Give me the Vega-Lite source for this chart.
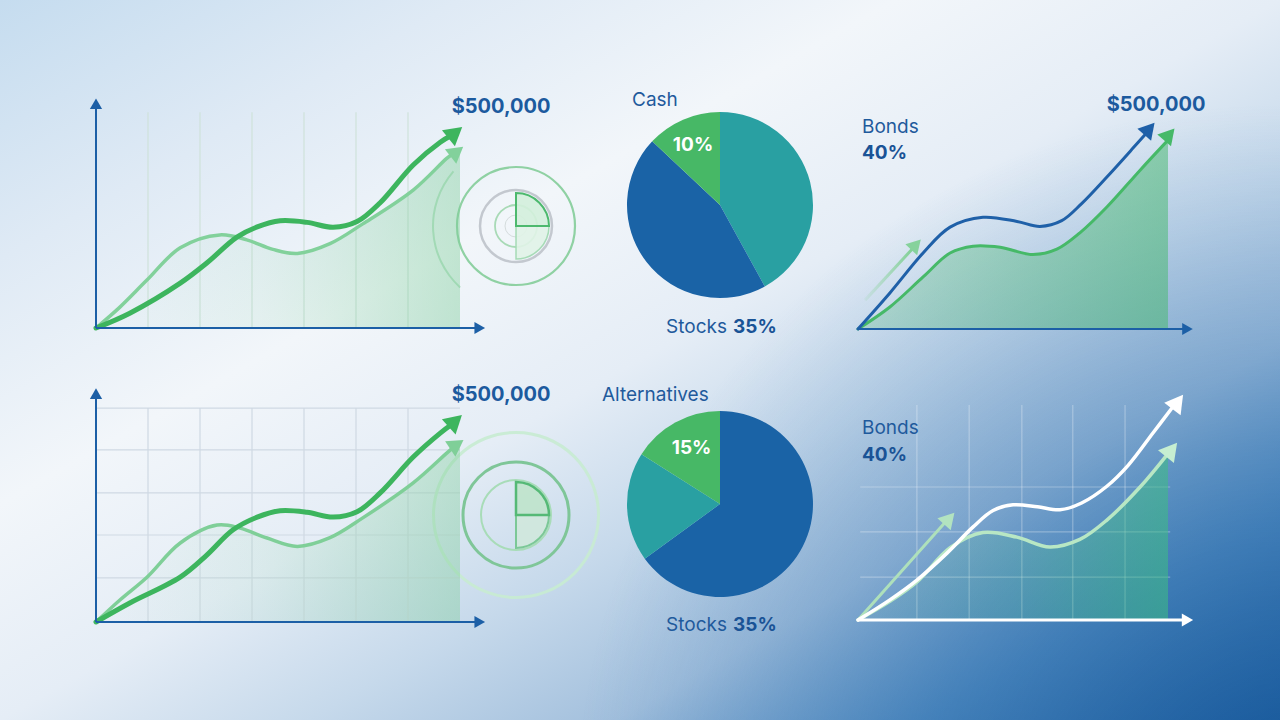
{
  "$schema": "https://vega.github.io/schema/vega-lite/v6.json",
  "width": 1280,
  "height": 720,
  "autosize": {"type": "fit", "contains": "padding"},
  "padding": 0,
  "background": "#ffffff",
  "config": {"view": {"stroke": null}, "font": "Inter"},
  "datasets": {
    "tlGrid": [
      {"t": 1, "t2": 1, "v": 0, "v2": 568}, {"t": 2, "t2": 2, "v": 0, "v2": 568},
      {"t": 3, "t2": 3, "v": 0, "v2": 568}, {"t": 4, "t2": 4, "v": 0, "v2": 568},
      {"t": 5, "t2": 5, "v": 0, "v2": 568}, {"t": 6, "t2": 6, "v": 0, "v2": 568}
    ],
    "tlDark": [
      {"t": 0, "v": 0}, {"t": 0.65, "v": 39}, {"t": 1.62, "v": 118}, {"t": 2.13, "v": 171},
      {"t": 2.71, "v": 239}, {"t": 3.1, "v": 266}, {"t": 3.54, "v": 282}, {"t": 4.06, "v": 278},
      {"t": 4.56, "v": 265}, {"t": 5.02, "v": 280}, {"t": 5.46, "v": 329}, {"t": 6.1, "v": 429},
      {"t": 6.62, "v": 489}, {"t": 6.85, "v": 508}
    ],
    "tlLight": [
      {"t": 0, "v": 0}, {"t": 0.46, "v": 55}, {"t": 0.98, "v": 126}, {"t": 1.62, "v": 211},
      {"t": 2.38, "v": 245}, {"t": 2.9, "v": 232}, {"t": 3.4, "v": 207}, {"t": 3.87, "v": 196},
      {"t": 4.5, "v": 222}, {"t": 5.13, "v": 274}, {"t": 6.1, "v": 363}, {"t": 6.75, "v": 447},
      {"t": 6.88, "v": 460}
    ],
    "tlArea": [
      {"t": 0, "v": 0}, {"t": 0.46, "v": 55}, {"t": 0.98, "v": 126}, {"t": 1.62, "v": 211},
      {"t": 2.38, "v": 245}, {"t": 2.9, "v": 232}, {"t": 3.4, "v": 207}, {"t": 3.87, "v": 196},
      {"t": 4.5, "v": 222}, {"t": 5.13, "v": 274}, {"t": 6.1, "v": 363}, {"t": 6.75, "v": 447},
      {"t": 7, "v": 463}
    ],
    "tlAxes": [{"t": 0, "t2": 7.3, "v": 0, "v2": 0}, {"t": 0, "t2": 0, "v": 0, "v2": 585}],
    "blGrid": [
      {"t": 1, "t2": 1, "v": 0, "v2": 563}, {"t": 2, "t2": 2, "v": 0, "v2": 563},
      {"t": 3, "t2": 3, "v": 0, "v2": 563}, {"t": 4, "t2": 4, "v": 0, "v2": 563},
      {"t": 5, "t2": 5, "v": 0, "v2": 563}, {"t": 6, "t2": 6, "v": 0, "v2": 563},
      {"t": 0, "t2": 7, "v": 563, "v2": 563}, {"t": 0, "t2": 7, "v": 453, "v2": 453},
      {"t": 0, "t2": 7, "v": 340, "v2": 340}, {"t": 0, "t2": 7, "v": 229, "v2": 229},
      {"t": 0, "t2": 7, "v": 116, "v2": 116}
    ],
    "blDark": [
      {"t": 0, "v": 0}, {"t": 0.65, "v": 50}, {"t": 1.62, "v": 118}, {"t": 2.13, "v": 176},
      {"t": 2.63, "v": 242}, {"t": 3.1, "v": 276}, {"t": 3.54, "v": 293}, {"t": 4.06, "v": 289},
      {"t": 4.56, "v": 276}, {"t": 5.02, "v": 290}, {"t": 5.46, "v": 339}, {"t": 6.1, "v": 434},
      {"t": 6.62, "v": 497}, {"t": 6.85, "v": 521}
    ],
    "blLight": [
      {"t": 0, "v": 0}, {"t": 0.46, "v": 58}, {"t": 0.98, "v": 118}, {"t": 1.62, "v": 208},
      {"t": 2.33, "v": 255}, {"t": 2.77, "v": 247}, {"t": 3.29, "v": 221}, {"t": 3.87, "v": 199},
      {"t": 4.5, "v": 222}, {"t": 5.13, "v": 274}, {"t": 6.1, "v": 366}, {"t": 6.75, "v": 445},
      {"t": 6.88, "v": 460}
    ],
    "blArea": [
      {"t": 0, "v": 0}, {"t": 0.46, "v": 58}, {"t": 0.98, "v": 118}, {"t": 1.62, "v": 208},
      {"t": 2.33, "v": 255}, {"t": 2.77, "v": 247}, {"t": 3.29, "v": 221}, {"t": 3.87, "v": 199},
      {"t": 4.5, "v": 222}, {"t": 5.13, "v": 274}, {"t": 6.1, "v": 366}, {"t": 6.75, "v": 445},
      {"t": 7, "v": 462}
    ],
    "blAxes": [{"t": 0, "t2": 7.3, "v": 0, "v2": 0}, {"t": 0, "t2": 0, "v": 0, "v2": 596}],
    "trBlue": [
      {"t": 0, "v": 0}, {"t": 0.72, "v": 95}, {"t": 1.47, "v": 200}, {"t": 2.08, "v": 268},
      {"t": 2.82, "v": 294}, {"t": 3.59, "v": 283}, {"t": 4.11, "v": 270}, {"t": 4.6, "v": 285},
      {"t": 5.05, "v": 330}, {"t": 5.62, "v": 400}, {"t": 6.21, "v": 476}, {"t": 6.53, "v": 518}
    ],
    "trGreen": [
      {"t": 0, "v": 0}, {"t": 0.72, "v": 58}, {"t": 1.47, "v": 137}, {"t": 2.08, "v": 200},
      {"t": 2.6, "v": 218}, {"t": 3.21, "v": 215}, {"t": 3.95, "v": 196}, {"t": 4.49, "v": 210},
      {"t": 5.01, "v": 253}, {"t": 5.62, "v": 321}, {"t": 6.37, "v": 418}, {"t": 7, "v": 497}
    ],
    "trSmall": [{"t": 0.16, "v": 76}, {"t": 1.22, "v": 210}],
    "brGrid": [
      {"t": 1.33, "t2": 1.33, "v": 0, "v2": 566}, {"t": 2.51, "t2": 2.51, "v": 0, "v2": 566},
      {"t": 3.7, "t2": 3.7, "v": 0, "v2": 566}, {"t": 4.85, "t2": 4.85, "v": 0, "v2": 566},
      {"t": 6.03, "t2": 6.03, "v": 0, "v2": 566},
      {"t": 0.05, "t2": 7.05, "v": 113, "v2": 113}, {"t": 0.05, "t2": 7.05, "v": 232, "v2": 232},
      {"t": 0.05, "t2": 7.05, "v": 350, "v2": 350}
    ],
    "brWhite": [
      {"t": 0, "v": 0}, {"t": 0.72, "v": 53}, {"t": 1.33, "v": 105}, {"t": 2.01, "v": 176},
      {"t": 2.6, "v": 245}, {"t": 3.05, "v": 288}, {"t": 3.5, "v": 303}, {"t": 4.05, "v": 298},
      {"t": 4.56, "v": 290}, {"t": 5.05, "v": 308}, {"t": 5.62, "v": 352}, {"t": 6.1, "v": 407},
      {"t": 6.66, "v": 492}, {"t": 7.09, "v": 558}
    ],
    "brGreen": [
      {"t": 0, "v": 0}, {"t": 0.72, "v": 49}, {"t": 1.33, "v": 100}, {"t": 2.08, "v": 190},
      {"t": 2.82, "v": 230}, {"t": 3.59, "v": 218}, {"t": 4.33, "v": 192}, {"t": 5.01, "v": 212},
      {"t": 5.62, "v": 263}, {"t": 6.37, "v": 350}, {"t": 7, "v": 438}
    ],
    "brSmall": [{"t": 0, "v": 0}, {"t": 2.0, "v": 261}],
    "xAxisR": [{"t": 0, "t2": 7.4, "v": 0, "v2": 0}]
  },
  "layer": [
    {
      "data": {"values": [{}]},
      "mark": {
        "type": "rect",
        "strokeWidth": 0,
        "fill": {
          "gradient": "linear", "x1": 0, "y1": 0, "x2": 1, "y2": 1,
          "stops": [
            {"offset": 0, "color": "#c5dcef"},
            {"offset": 0.18, "color": "#dfeaf5"},
            {"offset": 0.35, "color": "#f2f6fa"},
            {"offset": 0.5, "color": "#e5edf6"},
            {"offset": 0.62, "color": "#c6d9eb"},
            {"offset": 0.74, "color": "#a3c0dd"},
            {"offset": 0.86, "color": "#5890c4"},
            {"offset": 1, "color": "#195a9c"}
          ]
        }
      },
      "encoding": {}
    },
    {
      "data": {"values": [{}]},
      "mark": {
        "type": "rect",
        "strokeWidth": 0,
        "fill": {
          "gradient": "radial", "x1": 1, "y1": 0.85, "r1": 0, "x2": 1, "y2": 0.85, "r2": 0.55,
          "stops": [
            {"offset": 0, "color": "rgba(26,90,156,0.7)"},
            {"offset": 0.5, "color": "rgba(40,108,172,0.42)"},
            {"offset": 1, "color": "rgba(60,120,180,0)"}
          ]
        }
      },
      "encoding": {}
    },
    {
      "layer": [
        {
          "data": {"name": "tlGrid"},
          "mark": {"type": "rule", "color": "#cfe2db", "strokeWidth": 1.2},
          "encoding": {
            "x": {"field": "t", "type": "quantitative", "scale": {"domain": [0, 7], "range": [96, 460], "nice": false, "zero": false}, "axis": null},
            "x2": {"field": "t2"},
            "y": {"field": "v", "type": "quantitative", "scale": {"domain": [0, 600], "range": [328, 100], "nice": false, "zero": false}, "axis": null},
            "y2": {"field": "v2"}
          }
        },
        {
          "data": {"values": [{"t": 8.077, "v": 268.4}]},
          "layer": [
            {"mark": {"type": "arc", "theta": 3.88, "theta2": 5.43, "outerRadius": 84, "innerRadius": 82, "fill": "#9fd8b1", "opacity": 0.7}},
            {"mark": {"type": "point", "shape": "circle", "filled": false, "size": 13924, "stroke": "#8fd1a3", "strokeWidth": 2.2, "opacity": 1}},
            {"mark": {"type": "point", "shape": "circle", "filled": false, "size": 5184, "stroke": "#c3c8cf", "strokeWidth": 2.5, "opacity": 1}},
            {"mark": {"type": "point", "shape": "circle", "filled": false, "size": 1764, "stroke": "#a8dab6", "strokeWidth": 1.8, "opacity": 1}},
            {"mark": {"type": "point", "shape": "circle", "filled": false, "size": 484, "stroke": "#d5dcdd", "strokeWidth": 1, "opacity": 1}},
            {"mark": {"type": "arc", "theta": 1.5708, "theta2": 3.1416, "outerRadius": 33, "innerRadius": 0, "fill": "#e0f3e7", "fillOpacity": 0.9, "stroke": "#a6dbb6", "strokeWidth": 1.5}},
            {"mark": {"type": "arc", "theta": 0, "theta2": 1.5708, "outerRadius": 33, "innerRadius": 0, "fill": "#d3efdc", "fillOpacity": 0.9, "stroke": "#4db96e", "strokeWidth": 2}}
          ],
          "encoding": {
            "x": {"field": "t", "type": "quantitative", "scale": {"domain": [0, 7], "range": [96, 460], "nice": false, "zero": false}, "axis": null},
            "y": {"field": "v", "type": "quantitative", "scale": {"domain": [0, 600], "range": [328, 100], "nice": false, "zero": false}, "axis": null}
          }
        },
        {
          "data": {"name": "tlArea"},
          "mark": {
            "type": "area", "interpolate": "catmull-rom",
            "fill": {"gradient": "linear", "x1": 0, "y1": 0, "x2": 1, "y2": 0,
              "stops": [
                {"offset": 0, "color": "rgba(140,210,165,0)"},
                {"offset": 0.45, "color": "rgba(140,210,165,0.12)"},
                {"offset": 1, "color": "rgba(125,205,152,0.42)"}
              ]}
          },
          "encoding": {
            "x": {"field": "t", "type": "quantitative", "scale": {"domain": [0, 7], "range": [96, 460], "nice": false, "zero": false}, "axis": null},
            "y": {"field": "v", "type": "quantitative", "scale": {"domain": [0, 600], "range": [328, 100], "nice": false, "zero": false}, "axis": null}
          }
        },
        {
          "data": {"name": "tlLight"},
          "mark": {"type": "line", "interpolate": "catmull-rom", "color": "#82d19b", "strokeWidth": 3.5, "strokeCap": "round"},
          "encoding": {
            "x": {"field": "t", "type": "quantitative", "scale": {"domain": [0, 7], "range": [96, 460], "nice": false, "zero": false}, "axis": null},
            "y": {"field": "v", "type": "quantitative", "scale": {"domain": [0, 600], "range": [328, 100], "nice": false, "zero": false}, "axis": null}
          }
        },
        {
          "data": {"name": "tlDark"},
          "mark": {"type": "line", "interpolate": "catmull-rom", "color": "#3db55e", "strokeWidth": 5, "strokeCap": "round"},
          "encoding": {
            "x": {"field": "t", "type": "quantitative", "scale": {"domain": [0, 7], "range": [96, 460], "nice": false, "zero": false}, "axis": null},
            "y": {"field": "v", "type": "quantitative", "scale": {"domain": [0, 600], "range": [328, 100], "nice": false, "zero": false}, "axis": null}
          }
        },
        {
          "data": {"name": "tlAxes"},
          "mark": {"type": "rule", "color": "#1c5fa6", "strokeWidth": 2},
          "encoding": {
            "x": {"field": "t", "type": "quantitative", "scale": {"domain": [0, 7], "range": [96, 460], "nice": false, "zero": false}, "axis": null},
            "x2": {"field": "t2"},
            "y": {"field": "v", "type": "quantitative", "scale": {"domain": [0, 600], "range": [328, 100], "nice": false, "zero": false}, "axis": null},
            "y2": {"field": "v2"}
          }
        },
        {
          "layer": [
            {"data": {"values": [{"t": 7.38, "v": 0}]}, "mark": {"type": "point", "shape": "triangle-right", "filled": true, "size": 150, "color": "#1c5fa6", "opacity": 1}},
            {"data": {"values": [{"t": 0, "v": 590}]}, "mark": {"type": "point", "shape": "triangle-up", "filled": true, "size": 150, "color": "#1c5fa6", "opacity": 1}},
            {"data": {"values": [{"t": 6.91, "v": 514}]}, "mark": {"type": "point", "shape": "triangle-up", "filled": true, "size": 420, "angle": 51, "color": "#3db55e", "opacity": 1}},
            {"data": {"values": [{"t": 6.94, "v": 464}]}, "mark": {"type": "point", "shape": "triangle-up", "filled": true, "size": 340, "angle": 52, "color": "#82d19b", "opacity": 1}},
            {"data": {"values": [{"label": "$500,000", "t": 7.79, "v": 582}]}, "mark": {"type": "text", "fontSize": 20, "fontWeight": "bold", "color": "#1c5a9e", "align": "center", "baseline": "middle"}, "encoding": {"text": {"field": "label"}}}
          ],
          "encoding": {
            "x": {"field": "t", "type": "quantitative", "scale": {"domain": [0, 7], "range": [96, 460], "nice": false, "zero": false}, "axis": null},
            "y": {"field": "v", "type": "quantitative", "scale": {"domain": [0, 600], "range": [328, 100], "nice": false, "zero": false}, "axis": null}
          }
        }
      ]
    },
    {
      "layer": [
        {
          "data": {"name": "blGrid"},
          "mark": {"type": "rule", "color": "#cfd9e3", "strokeWidth": 1.2},
          "encoding": {
            "x": {"field": "t", "type": "quantitative", "scale": {"domain": [0, 7], "range": [96, 460], "nice": false, "zero": false}, "axis": null},
            "x2": {"field": "t2"},
            "y": {"field": "v", "type": "quantitative", "scale": {"domain": [0, 600], "range": [622, 394], "nice": false, "zero": false}, "axis": null},
            "y2": {"field": "v2"}
          }
        },
        {
          "data": {"values": [{"t": 8.077, "v": 281.6}]},
          "layer": [
            {"mark": {"type": "point", "shape": "circle", "filled": false, "size": 27225, "stroke": "#c8ecd2", "strokeWidth": 3, "opacity": 0.9}},
            {"mark": {"type": "point", "shape": "circle", "filled": false, "size": 11236, "stroke": "#7fc698", "strokeWidth": 3, "opacity": 1}},
            {"mark": {"type": "point", "shape": "circle", "filled": false, "size": 4900, "stroke": "#a8dcb8", "strokeWidth": 2, "opacity": 1}},
            {"mark": {"type": "arc", "theta": 1.5708, "theta2": 3.1416, "outerRadius": 33, "innerRadius": 0, "fill": "#cfe9da", "fillOpacity": 0.8, "stroke": "#7cc897", "strokeWidth": 2}},
            {"mark": {"type": "arc", "theta": 0, "theta2": 1.5708, "outerRadius": 33, "innerRadius": 0, "fill": "#bfe3cb", "fillOpacity": 0.9, "stroke": "#55b976", "strokeWidth": 2.5}}
          ],
          "encoding": {
            "x": {"field": "t", "type": "quantitative", "scale": {"domain": [0, 7], "range": [96, 460], "nice": false, "zero": false}, "axis": null},
            "y": {"field": "v", "type": "quantitative", "scale": {"domain": [0, 600], "range": [622, 394], "nice": false, "zero": false}, "axis": null}
          }
        },
        {
          "data": {"name": "blArea"},
          "mark": {
            "type": "area", "interpolate": "catmull-rom",
            "fill": {"gradient": "linear", "x1": 0, "y1": 0, "x2": 1, "y2": 0,
              "stops": [
                {"offset": 0, "color": "rgba(140,210,165,0)"},
                {"offset": 0.45, "color": "rgba(140,210,165,0.13)"},
                {"offset": 1, "color": "rgba(125,205,152,0.4)"}
              ]}
          },
          "encoding": {
            "x": {"field": "t", "type": "quantitative", "scale": {"domain": [0, 7], "range": [96, 460], "nice": false, "zero": false}, "axis": null},
            "y": {"field": "v", "type": "quantitative", "scale": {"domain": [0, 600], "range": [622, 394], "nice": false, "zero": false}, "axis": null}
          }
        },
        {
          "data": {"name": "blLight"},
          "mark": {"type": "line", "interpolate": "catmull-rom", "color": "#7fcf98", "strokeWidth": 3.5, "strokeCap": "round"},
          "encoding": {
            "x": {"field": "t", "type": "quantitative", "scale": {"domain": [0, 7], "range": [96, 460], "nice": false, "zero": false}, "axis": null},
            "y": {"field": "v", "type": "quantitative", "scale": {"domain": [0, 600], "range": [622, 394], "nice": false, "zero": false}, "axis": null}
          }
        },
        {
          "data": {"name": "blDark"},
          "mark": {"type": "line", "interpolate": "catmull-rom", "color": "#3db55e", "strokeWidth": 5, "strokeCap": "round"},
          "encoding": {
            "x": {"field": "t", "type": "quantitative", "scale": {"domain": [0, 7], "range": [96, 460], "nice": false, "zero": false}, "axis": null},
            "y": {"field": "v", "type": "quantitative", "scale": {"domain": [0, 600], "range": [622, 394], "nice": false, "zero": false}, "axis": null}
          }
        },
        {
          "data": {"name": "blAxes"},
          "mark": {"type": "rule", "color": "#1c5fa6", "strokeWidth": 2},
          "encoding": {
            "x": {"field": "t", "type": "quantitative", "scale": {"domain": [0, 7], "range": [96, 460], "nice": false, "zero": false}, "axis": null},
            "x2": {"field": "t2"},
            "y": {"field": "v", "type": "quantitative", "scale": {"domain": [0, 600], "range": [622, 394], "nice": false, "zero": false}, "axis": null},
            "y2": {"field": "v2"}
          }
        },
        {
          "layer": [
            {"data": {"values": [{"t": 7.38, "v": 0}]}, "mark": {"type": "point", "shape": "triangle-right", "filled": true, "size": 150, "color": "#1c5fa6", "opacity": 1}},
            {"data": {"values": [{"t": 0, "v": 601}]}, "mark": {"type": "point", "shape": "triangle-up", "filled": true, "size": 150, "color": "#1c5fa6", "opacity": 1}},
            {"data": {"values": [{"t": 6.91, "v": 529}]}, "mark": {"type": "point", "shape": "triangle-up", "filled": true, "size": 420, "angle": 48, "color": "#3db55e", "opacity": 1}},
            {"data": {"values": [{"t": 6.94, "v": 467}]}, "mark": {"type": "point", "shape": "triangle-up", "filled": true, "size": 340, "angle": 56, "color": "#7fcf98", "opacity": 1}},
            {"data": {"values": [{"label": "$500,000", "t": 7.79, "v": 597}]}, "mark": {"type": "text", "fontSize": 20, "fontWeight": "bold", "color": "#1c5a9e", "align": "center", "baseline": "middle"}, "encoding": {"text": {"field": "label"}}}
          ],
          "encoding": {
            "x": {"field": "t", "type": "quantitative", "scale": {"domain": [0, 7], "range": [96, 460], "nice": false, "zero": false}, "axis": null},
            "y": {"field": "v", "type": "quantitative", "scale": {"domain": [0, 600], "range": [622, 394], "nice": false, "zero": false}, "axis": null}
          }
        }
      ]
    },
    {
      "layer": [
        {
          "data": {"name": "trGreen"},
          "mark": {
            "type": "area", "interpolate": "catmull-rom",
            "fill": {"gradient": "linear", "x1": 0, "y1": 0, "x2": 1, "y2": 0,
              "stops": [
                {"offset": 0, "color": "rgba(80,185,120,0.25)"},
                {"offset": 1, "color": "rgba(75,185,115,0.55)"}
              ]}
          },
          "encoding": {
            "x": {"field": "t", "type": "quantitative", "scale": {"domain": [0, 7], "range": [858, 1168], "nice": false, "zero": false}, "axis": null},
            "y": {"field": "v", "type": "quantitative", "scale": {"domain": [0, 600], "range": [329, 101], "nice": false, "zero": false}, "axis": null}
          }
        },
        {
          "data": {"name": "trSmall"},
          "mark": {"type": "line", "strokeWidth": 3, "strokeCap": "butt",
            "stroke": {"gradient": "linear", "x1": 0, "y1": 0, "x2": 1, "y2": 0,
              "stops": [{"offset": 0, "color": "rgba(143,212,160,0.15)"}, {"offset": 1, "color": "rgba(130,208,150,1)"}]}},
          "encoding": {
            "x": {"field": "t", "type": "quantitative", "scale": {"domain": [0, 7], "range": [858, 1168], "nice": false, "zero": false}, "axis": null},
            "y": {"field": "v", "type": "quantitative", "scale": {"domain": [0, 600], "range": [329, 101], "nice": false, "zero": false}, "axis": null}
          }
        },
        {
          "data": {"name": "trGreen"},
          "mark": {"type": "line", "interpolate": "catmull-rom", "color": "#46b968", "strokeWidth": 3, "strokeCap": "round"},
          "encoding": {
            "x": {"field": "t", "type": "quantitative", "scale": {"domain": [0, 7], "range": [858, 1168], "nice": false, "zero": false}, "axis": null},
            "y": {"field": "v", "type": "quantitative", "scale": {"domain": [0, 600], "range": [329, 101], "nice": false, "zero": false}, "axis": null}
          }
        },
        {
          "data": {"name": "trBlue"},
          "mark": {"type": "line", "interpolate": "catmull-rom", "color": "#1f60a8", "strokeWidth": 3, "strokeCap": "round"},
          "encoding": {
            "x": {"field": "t", "type": "quantitative", "scale": {"domain": [0, 7], "range": [858, 1168], "nice": false, "zero": false}, "axis": null},
            "y": {"field": "v", "type": "quantitative", "scale": {"domain": [0, 600], "range": [329, 101], "nice": false, "zero": false}, "axis": null}
          }
        },
        {
          "data": {"name": "xAxisR"},
          "mark": {"type": "rule", "color": "#1c5fa6", "strokeWidth": 2},
          "encoding": {
            "x": {"field": "t", "type": "quantitative", "scale": {"domain": [0, 7], "range": [858, 1168], "nice": false, "zero": false}, "axis": null},
            "x2": {"field": "t2"},
            "y": {"field": "v", "type": "quantitative", "scale": {"domain": [0, 600], "range": [329, 101], "nice": false, "zero": false}, "axis": null}
          }
        },
        {
          "layer": [
            {"data": {"values": [{"t": 7.44, "v": 0}]}, "mark": {"type": "point", "shape": "triangle-right", "filled": true, "size": 150, "color": "#1c5fa6", "opacity": 1}},
            {"data": {"values": [{"t": 6.58, "v": 527}]}, "mark": {"type": "point", "shape": "triangle-up", "filled": true, "size": 330, "angle": 41, "color": "#1f60a8", "opacity": 1}},
            {"data": {"values": [{"t": 7.03, "v": 512}]}, "mark": {"type": "point", "shape": "triangle-up", "filled": true, "size": 330, "angle": 41, "color": "#46b968", "opacity": 1}},
            {"data": {"values": [{"t": 1.31, "v": 222}]}, "mark": {"type": "point", "shape": "triangle-up", "filled": true, "size": 260, "angle": 43, "color": "#86d29c", "opacity": 1}},
            {"data": {"values": [{"label": "$500,000", "t": 6.73, "v": 589}]}, "mark": {"type": "text", "fontSize": 20, "fontWeight": "bold", "color": "#1c5a9e", "align": "center", "baseline": "middle"}, "encoding": {"text": {"field": "label"}}},
            {"data": {"values": [{"label": "Bonds", "t": 0.09, "v": 532}]}, "mark": {"type": "text", "fontSize": 19, "fontWeight": "normal", "color": "#1f5a9c", "align": "left", "baseline": "middle"}, "encoding": {"text": {"field": "label"}}},
            {"data": {"values": [{"label": "40%", "t": 0.09, "v": 463}]}, "mark": {"type": "text", "fontSize": 19, "fontWeight": "bold", "color": "#1a5396", "align": "left", "baseline": "middle"}, "encoding": {"text": {"field": "label"}}}
          ],
          "encoding": {
            "x": {"field": "t", "type": "quantitative", "scale": {"domain": [0, 7], "range": [858, 1168], "nice": false, "zero": false}, "axis": null},
            "y": {"field": "v", "type": "quantitative", "scale": {"domain": [0, 600], "range": [329, 101], "nice": false, "zero": false}, "axis": null}
          }
        }
      ]
    },
    {
      "layer": [
        {
          "data": {"name": "brGrid"},
          "mark": {"type": "rule", "color": "#ffffff", "strokeWidth": 1.2, "opacity": 0.3},
          "encoding": {
            "x": {"field": "t", "type": "quantitative", "scale": {"domain": [0, 7], "range": [858, 1168], "nice": false, "zero": false}, "axis": null},
            "x2": {"field": "t2"},
            "y": {"field": "v", "type": "quantitative", "scale": {"domain": [0, 600], "range": [620, 392], "nice": false, "zero": false}, "axis": null},
            "y2": {"field": "v2"}
          }
        },
        {
          "data": {"name": "brGreen"},
          "mark": {
            "type": "area", "interpolate": "catmull-rom",
            "fill": {"gradient": "linear", "x1": 0, "y1": 0, "x2": 1, "y2": 0,
              "stops": [
                {"offset": 0, "color": "rgba(90,195,140,0.05)"},
                {"offset": 0.5, "color": "rgba(75,192,135,0.2)"},
                {"offset": 1, "color": "rgba(60,190,130,0.55)"}
              ]}
          },
          "encoding": {
            "x": {"field": "t", "type": "quantitative", "scale": {"domain": [0, 7], "range": [858, 1168], "nice": false, "zero": false}, "axis": null},
            "y": {"field": "v", "type": "quantitative", "scale": {"domain": [0, 600], "range": [620, 392], "nice": false, "zero": false}, "axis": null}
          }
        },
        {
          "data": {"name": "brSmall"},
          "mark": {"type": "line", "color": "#aee0bb", "strokeWidth": 3, "strokeCap": "round"},
          "encoding": {
            "x": {"field": "t", "type": "quantitative", "scale": {"domain": [0, 7], "range": [858, 1168], "nice": false, "zero": false}, "axis": null},
            "y": {"field": "v", "type": "quantitative", "scale": {"domain": [0, 600], "range": [620, 392], "nice": false, "zero": false}, "axis": null}
          }
        },
        {
          "data": {"name": "brGreen"},
          "mark": {"type": "line", "interpolate": "catmull-rom", "color": "#b8e7c4", "strokeWidth": 3.5, "strokeCap": "round"},
          "encoding": {
            "x": {"field": "t", "type": "quantitative", "scale": {"domain": [0, 7], "range": [858, 1168], "nice": false, "zero": false}, "axis": null},
            "y": {"field": "v", "type": "quantitative", "scale": {"domain": [0, 600], "range": [620, 392], "nice": false, "zero": false}, "axis": null}
          }
        },
        {
          "data": {"name": "brWhite"},
          "mark": {"type": "line", "interpolate": "catmull-rom", "color": "#ffffff", "strokeWidth": 3.5, "strokeCap": "round"},
          "encoding": {
            "x": {"field": "t", "type": "quantitative", "scale": {"domain": [0, 7], "range": [858, 1168], "nice": false, "zero": false}, "axis": null},
            "y": {"field": "v", "type": "quantitative", "scale": {"domain": [0, 600], "range": [620, 392], "nice": false, "zero": false}, "axis": null}
          }
        },
        {
          "data": {"name": "xAxisR"},
          "mark": {"type": "rule", "color": "#ffffff", "strokeWidth": 3},
          "encoding": {
            "x": {"field": "t", "type": "quantitative", "scale": {"domain": [0, 7], "range": [858, 1168], "nice": false, "zero": false}, "axis": null},
            "x2": {"field": "t2"},
            "y": {"field": "v", "type": "quantitative", "scale": {"domain": [0, 600], "range": [620, 392], "nice": false, "zero": false}, "axis": null}
          }
        },
        {
          "layer": [
            {"data": {"values": [{"t": 7.44, "v": 0}]}, "mark": {"type": "point", "shape": "triangle-right", "filled": true, "size": 170, "color": "#ffffff", "opacity": 1}},
            {"data": {"values": [{"t": 7.22, "v": 574}]}, "mark": {"type": "point", "shape": "triangle-up", "filled": true, "size": 420, "angle": 37, "color": "#ffffff", "opacity": 1}},
            {"data": {"values": [{"t": 7.08, "v": 448}]}, "mark": {"type": "point", "shape": "triangle-up", "filled": true, "size": 420, "angle": 39, "color": "#c6eed1", "opacity": 1}},
            {"data": {"values": [{"t": 2.06, "v": 267}]}, "mark": {"type": "point", "shape": "triangle-up", "filled": true, "size": 320, "angle": 42, "color": "#b2e3c0", "opacity": 1}},
            {"data": {"values": [{"label": "Bonds", "t": 0.09, "v": 505}]}, "mark": {"type": "text", "fontSize": 19, "fontWeight": "normal", "color": "#1f5a9c", "align": "left", "baseline": "middle"}, "encoding": {"text": {"field": "label"}}},
            {"data": {"values": [{"label": "40%", "t": 0.09, "v": 434}]}, "mark": {"type": "text", "fontSize": 19, "fontWeight": "bold", "color": "#1a5396", "align": "left", "baseline": "middle"}, "encoding": {"text": {"field": "label"}}}
          ],
          "encoding": {
            "x": {"field": "t", "type": "quantitative", "scale": {"domain": [0, 7], "range": [858, 1168], "nice": false, "zero": false}, "axis": null},
            "y": {"field": "v", "type": "quantitative", "scale": {"domain": [0, 600], "range": [620, 392], "nice": false, "zero": false}, "axis": null}
          }
        }
      ]
    },
    {
      "layer": [
        {
          "data": {"values": [
            {"asset": "Bonds", "share": 42, "rank": 1},
            {"asset": "Stocks", "share": 45, "rank": 2},
            {"asset": "Cash", "share": 13, "rank": 3}
          ]},
          "mark": {"type": "arc", "outerRadius": 93, "strokeWidth": 0},
          "encoding": {
            "theta": {"field": "share", "type": "quantitative", "stack": true},
            "order": {"field": "rank", "type": "quantitative"},
            "color": {"field": "asset", "type": "nominal", "scale": {"domain": ["Bonds", "Stocks", "Cash"], "range": ["#29a0a2", "#1a63a6", "#47b866"]}, "legend": null},
            "x": {"datum": 0, "type": "quantitative", "scale": {"domain": [-1, 1], "range": [627, 813], "nice": false, "zero": false}, "axis": null},
            "y": {"datum": 0, "type": "quantitative", "scale": {"domain": [-1, 1], "range": [298, 112], "nice": false, "zero": false}, "axis": null}
          }
        },
        {
          "layer": [
            {"data": {"values": [{"label": "Cash", "u": -0.946, "w": 1.129}]}, "mark": {"type": "text", "fontSize": 19, "fontWeight": "normal", "color": "#1f5a9c", "align": "left", "baseline": "middle"}},
            {"data": {"values": [{"label": "10%", "u": -0.29, "w": 0.645}]}, "mark": {"type": "text", "fontSize": 19, "fontWeight": "bold", "color": "#ffffff", "align": "center", "baseline": "middle"}},
            {"data": {"values": [{"label": "Stocks", "u": 0.075, "w": -1.312}]}, "mark": {"type": "text", "fontSize": 19, "fontWeight": "normal", "color": "#1f5a9c", "align": "right", "baseline": "middle"}},
            {"data": {"values": [{"label": "35%", "u": 0.14, "w": -1.312}]}, "mark": {"type": "text", "fontSize": 19, "fontWeight": "bold", "color": "#1a5396", "align": "left", "baseline": "middle"}}
          ],
          "encoding": {
            "text": {"field": "label"},
            "x": {"field": "u", "type": "quantitative", "scale": {"domain": [-1, 1], "range": [627, 813], "nice": false, "zero": false}, "axis": null},
            "y": {"field": "w", "type": "quantitative", "scale": {"domain": [-1, 1], "range": [298, 112], "nice": false, "zero": false}, "axis": null}
          }
        }
      ]
    },
    {
      "layer": [
        {
          "data": {"values": [
            {"asset": "Stocks", "share": 65, "rank": 1},
            {"asset": "Bonds", "share": 19, "rank": 2},
            {"asset": "Alternatives", "share": 16, "rank": 3}
          ]},
          "mark": {"type": "arc", "outerRadius": 93, "strokeWidth": 0},
          "encoding": {
            "theta": {"field": "share", "type": "quantitative", "stack": true},
            "order": {"field": "rank", "type": "quantitative"},
            "color": {"field": "asset", "type": "nominal", "scale": {"domain": ["Bonds", "Stocks", "Alternatives"], "range": ["#29a0a2", "#1a63a6", "#47b866"]}, "legend": null},
            "x": {"datum": 0, "type": "quantitative", "scale": {"domain": [-1, 1], "range": [627, 813], "nice": false, "zero": false}, "axis": null},
            "y": {"datum": 0, "type": "quantitative", "scale": {"domain": [-1, 1], "range": [597, 411], "nice": false, "zero": false}, "axis": null}
          }
        },
        {
          "layer": [
            {"data": {"values": [{"label": "Alternatives", "u": -1.269, "w": 1.172}]}, "mark": {"type": "text", "fontSize": 19, "fontWeight": "normal", "color": "#1f5a9c", "align": "left", "baseline": "middle"}},
            {"data": {"values": [{"label": "15%", "u": -0.306, "w": 0.602}]}, "mark": {"type": "text", "fontSize": 19, "fontWeight": "bold", "color": "#ffffff", "align": "center", "baseline": "middle"}},
            {"data": {"values": [{"label": "Stocks", "u": 0.075, "w": -1.301}]}, "mark": {"type": "text", "fontSize": 19, "fontWeight": "normal", "color": "#1f5a9c", "align": "right", "baseline": "middle"}},
            {"data": {"values": [{"label": "35%", "u": 0.14, "w": -1.301}]}, "mark": {"type": "text", "fontSize": 19, "fontWeight": "bold", "color": "#1a5396", "align": "left", "baseline": "middle"}}
          ],
          "encoding": {
            "text": {"field": "label"},
            "x": {"field": "u", "type": "quantitative", "scale": {"domain": [-1, 1], "range": [627, 813], "nice": false, "zero": false}, "axis": null},
            "y": {"field": "w", "type": "quantitative", "scale": {"domain": [-1, 1], "range": [597, 411], "nice": false, "zero": false}, "axis": null}
          }
        }
      ]
    }
  ],
  "resolve": {"scale": {"x": "independent", "y": "independent", "theta": "independent", "color": "independent"}}
}
